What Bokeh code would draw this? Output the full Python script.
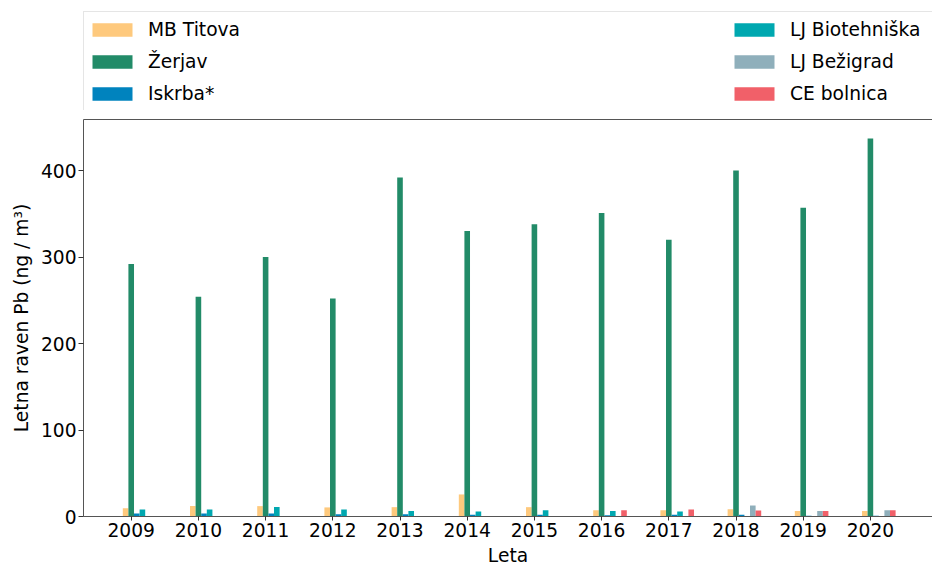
from bokeh.plotting import figure
from bokeh.layouts import column
from bokeh.models import (Range1d, FixedTicker, Legend, LegendItem, LinearAxis,
                          ColumnDataSource, Label)
from bokeh.transform import dodge
from bokeh.embed import file_html
from bokeh.resources import INLINE

NaN = float("nan")

# ---- data ----
years = [2009, 2010, 2011, 2012, 2013, 2014, 2015, 2016, 2017, 2018, 2019, 2020]
year_labels = ["2009", "2010", "2011", "2012", "2013", "2014", "2015", "2016",
               "2017", "2018", "2019", "2020"]
series_names = ["MB Titova", "Žerjav", "Iskrba*", "LJ Biotehniška",
                "LJ Bežigrad", "CE bolnica"]
mb_titova = [9.5, 12.0, 12.0, 10.5, 10.8, 25.5, 10.8, 7.3, 7.3, 8.5, 6.5, 6.5]
zerjav = [292, 254, 300, 252, 392, 330, 338, 351, 320, 400, 357, 437]
iskrba = [3.5, 3.5, 3.5, 2.5, 2.5, 2.0, 2.0, 1.5, 2.0, 2.0, 1.0, 1.0]
lj_biotehniska = [8.0, 8.0, 11.0, 8.0, 6.5, 5.8, 7.3, 6.5, 5.8, NaN, NaN, NaN]
lj_bezigrad = [NaN, NaN, NaN, NaN, NaN, NaN, NaN, NaN, NaN, 12.7, 6.5, 7.3]
ce_bolnica = [NaN, NaN, NaN, NaN, NaN, NaN, NaN, 7.3, 8.1, 7.0, 6.5, 7.3]
y_ticks = [0, 100, 200, 300, 400]
x_title = "Leta"
y_title = "Letna raven Pb (ng / m³)"

series_values = [mb_titova, zerjav, iskrba, lj_biotehniska, lj_bezigrad, ce_bolnica]
colors = ["#FEC97D", "#228B68", "#0083BE", "#00A8B0", "#8FAFBB", "#F16069"]

FONT = "DejaVu Sans"
FS = "18.67px"
bar_w = 0.5 / 6

# ---------------- main chart ----------------
p = figure(width=932, height=434, output_backend="svg", toolbar_location=None,
           x_range=Range1d(2008.29, 2020.924), y_range=Range1d(0, 459),
           min_border_left=83, min_border_right=0, min_border_top=9,
           min_border_bottom=28)
p.outline_line_color = None
p.xgrid.visible = False
p.ygrid.visible = False
p.background_fill_color = "white"
p.border_fill_color = "white"

data = {"year": years}
for i, vals in enumerate(series_values):
    data["s%d" % i] = vals
src = ColumnDataSource(data)

for i, (name, col) in enumerate(zip(series_names, colors)):
    p.vbar(x=dodge("year", (i - 1) * bar_w, range=p.x_range), top="s%d" % i,
           width=bar_w, bottom=0, source=src, fill_color=col, line_color=None)

for ax in (p.xaxis[0], p.yaxis[0]):
    ax.axis_line_color = "#555555"
    ax.axis_line_width = 1
    ax.major_tick_line_color = "#333333"
    ax.major_tick_in = 0
    ax.minor_tick_line_color = None
    ax.major_label_text_font = FONT
    ax.major_label_text_font_size = FS
    ax.major_label_text_color = "black"
    ax.axis_label_text_font = FONT
    ax.axis_label_text_font_size = FS
    ax.axis_label_text_font_style = "normal"
    ax.axis_label_text_color = "black"

p.xaxis.ticker = FixedTicker(ticks=years)
p.xaxis.major_label_overrides = {y: lab for y, lab in zip(years, year_labels)}
p.xaxis.major_tick_out = 4
p.xaxis.major_label_standoff = 2

p.yaxis.ticker = FixedTicker(ticks=y_ticks)
p.yaxis.axis_label = y_title
p.yaxis.major_tick_out = 5
p.yaxis.major_label_standoff = 2
p.yaxis.axis_label_standoff = 6

top_axis = LinearAxis(ticker=FixedTicker(ticks=[]), axis_line_color="#555555",
                      axis_line_width=1, major_tick_line_color=None,
                      minor_tick_line_color=None, major_tick_out=0,
                      major_tick_in=0, major_label_standoff=0)
p.add_layout(top_axis, "above")


def strip(height):
    f = figure(width=932, height=height, output_backend="svg",
               toolbar_location=None, x_range=Range1d(0, 1), y_range=Range1d(0, 1),
               x_axis_location=None, y_axis_location=None, min_border=0)
    f.outline_line_color = None
    f.xgrid.visible = False
    f.ygrid.visible = False
    f.background_fill_color = "white"
    f.border_fill_color = "white"
    return f


# ---------------- legend strip (above) ----------------
lg = strip(110)
# legend-only renderers: one entry with no height, so nothing is drawn in the strip
legend_src = ColumnDataSource({"x": [0.5], "top": [NaN]})
items = []
for name, col in zip(series_names, colors):
    r = lg.vbar(x="x", top="top", width=0.1, source=legend_src,
                fill_color=col, line_color=None)
    items.append(LegendItem(label=name, renderers=[r]))

legend = Legend(items=items, location=(0, -2), ncols=2, orientation="vertical",
                glyph_width=50, glyph_height=17, label_standoff=11,
                label_width=578, label_height=29, spacing=3, padding=3, margin=0,
                label_text_font=FONT, label_text_font_size=FS,
                label_text_color="black", border_line_color="#cccccc",
                border_line_width=1, background_fill_color="white",
                background_fill_alpha=1.0)
lg.add_layout(legend)

# ---------------- x-axis title strip (below) ----------------
xt = strip(18)
xt.add_layout(Label(x=0.5, y=7, x_units="data", y_units="screen", text=x_title,
                    text_align="center", text_baseline="alphabetic",
                    text_font=FONT, text_font_size=FS, text_color="black"))

layout = column(lg, p, xt, spacing=0)
open("out.html", "w").write(file_html(layout, INLINE))
